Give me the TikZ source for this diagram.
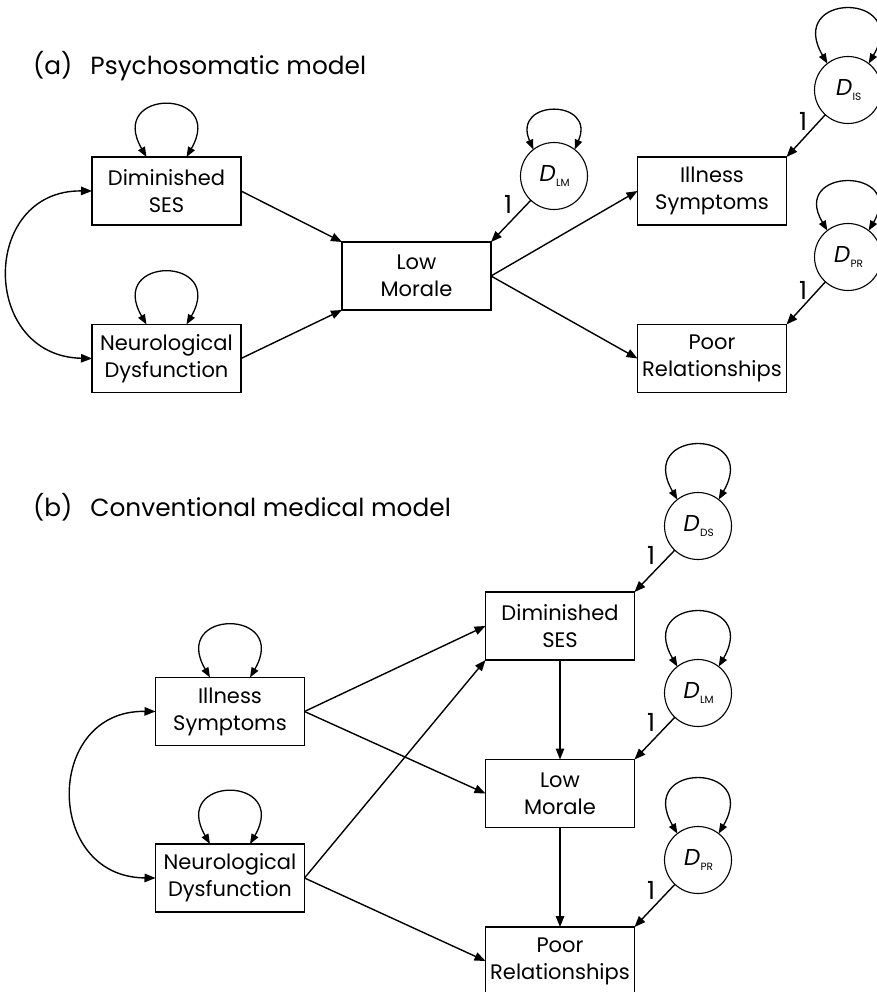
\documentclass[tikz,border=0pt]{standalone}
\usepackage{fontspec}
\setmainfont{Poppins}
\newfontfamily\slantfont[FakeSlant=0.18]{Poppins}
\usetikzlibrary{arrows.meta}

% disturbance label: italic D with a small lowered subscript
\newcommand{\dlabel}[1]{{\slantfont\fontsize{23}{23}\selectfont D}\kern1.5pt\raisebox{-5pt}{\fontsize{10.5}{10.5}\selectfont #1}}

\begin{document}
\begin{tikzpicture}[x=1pt,y=-1pt,
  vbox/.style={draw, line width=1.2pt, minimum width=149pt, minimum height=68pt,
    inner sep=0pt, outer sep=0pt, align=center, font=\fontsize{21}{27}\selectfont},
  dnode/.style={draw, circle, line width=1.1pt, minimum size=67pt, inner sep=0pt, outer sep=0pt},
  causal/.style={line width=1.4pt, -{Triangle[length=11pt,width=8.5pt]}},
  twoway/.style={line width=1.4pt, {Triangle[length=11pt,width=8.5pt]}-{Triangle[length=11pt,width=8.5pt]}},
  selfloop/.style={line width=1.3pt, {Triangle[length=10pt,width=7.5pt]}-{Triangle[length=10pt,width=7.5pt]}},
  one/.style={font=\fontsize{25}{25}\selectfont, inner sep=0pt},
  title/.style={anchor=base west, inner sep=0pt, font=\fontsize{24.8}{24.8}\selectfont}
]
\useasboundingbox (0,0) rectangle (876,992);

% ---------------- (a) Psychosomatic model ----------------
\node[title] (ta) at (33,75) {(a)\hspace{18pt}Psychosomatic model};

\node[vbox] (ds) at (166.5,191) {Diminished\\SES};
\node[vbox] (nd) at (166.5,358.5) {Neurological\\Dysfunction};
\node[vbox] (lm) at (416.5,276) {Low\\Morale};
\node[vbox] (is) at (712,191) {Illness\\Symptoms};
\node[vbox] (pr) at (712,358.5) {Poor\\Relationships};

\node[dnode] (dlm) at (554,176) {\dlabel{LM}};
\node[dnode] (dis) at (848,90) {\dlabel{IS}};
\node[dnode] (dpr) at (848,257) {\dlabel{PR}};

\draw[causal] (ds.east) -- (lm.north west);
\draw[causal] (nd.east) -- (lm.south west);
\draw[causal] (lm.east) -- (is.west);
\draw[causal] (lm.east) -- (pr.west);
\draw[causal] (dlm) -- (lm.north east);
\draw[causal] (dis) -- (is.north east);
\draw[causal] (dpr) -- (pr.north east);

\draw[twoway] (ds.west) .. controls (-20,190) and (-20,356) .. (nd.west);

\draw[selfloop] ([xshift=-20pt]ds.north) .. controls +(-40,-69) and +(40,-69) .. ([xshift=20pt]ds.north);
\draw[selfloop] ([xshift=-20pt]nd.north) .. controls +(-40,-69) and +(40,-69) .. ([xshift=20pt]nd.north);
\draw[selfloop] (dlm.128) .. controls +(-22,-51) and +(22,-51) .. (dlm.52);
\draw[selfloop] (dis.128) .. controls +(-42,-72) and +(42,-72) .. (dis.52);
\draw[selfloop] (dpr.128) .. controls +(-38,-64) and +(38,-64) .. (dpr.52);

\node[one] (o1) at (508,204) {1};
\node[one] (o2) at (803,121) {1};
\node[one] (o3) at (803,290) {1};

% ---------------- (b) Conventional medical model ----------------
\node[title] (tb) at (33,516) {(b)\hspace{18pt}Conventional medical model};

\node[vbox] (is2) at (230,711.5) {Illness\\Symptoms};
\node[vbox] (nd2) at (230,878) {Neurological\\Dysfunction};
\node[vbox] (ds2) at (560,626) {Diminished\\SES};
\node[vbox] (lm2) at (560,793.5) {Low\\Morale};
\node[vbox] (pr2) at (560,961) {Poor\\Relationships};

\node[dnode] (dds2) at (698,526) {\dlabel{DS}};
\node[dnode] (dlm2) at (698,693) {\dlabel{LM}};
\node[dnode] (dpr2) at (698,860) {\dlabel{PR}};

\draw[causal] (is2.east) -- (ds2.west);
\draw[causal] (is2.east) -- (lm2.west);
\draw[causal] (nd2.east) -- (ds2.south west);
\draw[causal] (nd2.east) -- (pr2.west);
\draw[causal] (ds2.south) -- (lm2.north);
\draw[causal] (lm2.south) -- (pr2.north);
\draw[causal] (dds2) -- (ds2.north east);
\draw[causal] (dlm2) -- (lm2.north east);
\draw[causal] (dpr2) -- (pr2.north east);

\draw[twoway] (is2.west) .. controls (44,710) and (44,877) .. (nd2.west);

\draw[selfloop] ([xshift=-20pt]is2.north) .. controls +(-40,-69) and +(40,-69) .. ([xshift=20pt]is2.north);
\draw[selfloop] ([xshift=-20pt]nd2.north) .. controls +(-40,-69) and +(40,-69) .. ([xshift=20pt]nd2.north);
\draw[selfloop] (dds2.128) .. controls +(-42,-72) and +(42,-72) .. (dds2.52);
\draw[selfloop] (dlm2.128) .. controls +(-42,-72) and +(42,-72) .. (dlm2.52);
\draw[selfloop] (dpr2.128) .. controls +(-42,-72) and +(42,-72) .. (dpr2.52);

\node[one] (o4) at (651,555) {1};
\node[one] (o5) at (651,722) {1};
\node[one] (o6) at (651,890) {1};
\end{tikzpicture}
\end{document}
